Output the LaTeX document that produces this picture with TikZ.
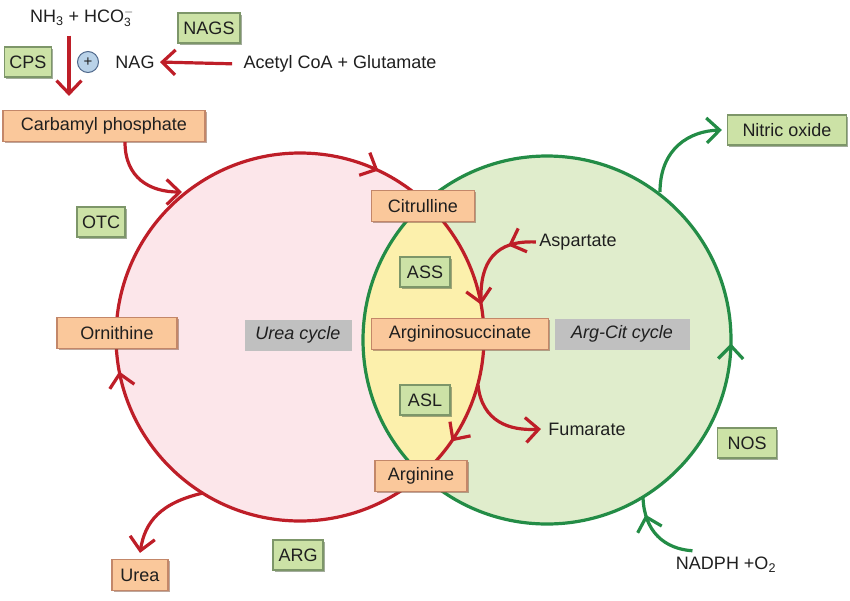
\documentclass[tikz,border=0pt]{standalone}
\usepackage{fontspec}
\setmainfont{Liberation Sans}
\usetikzlibrary{arrows.meta, decorations.markings, positioning, shadows}

\definecolor{cycred}{RGB}{190,30,40}
\definecolor{cycgreen}{RGB}{35,140,70}
\definecolor{pinkfill}{RGB}{252,230,234}
\definecolor{greenfill}{RGB}{224,237,204}
\definecolor{overlapfill}{RGB}{252,240,172}
\definecolor{metab}{RGB}{250,200,155}
\definecolor{metabedge}{RGB}{195,135,105}
\definecolor{enzyme}{RGB}{204,226,166}
\definecolor{enzymeedge}{RGB}{125,150,105}
\definecolor{cyclegrey}{RGB}{192,192,192}
\definecolor{plusfill}{RGB}{185,210,232}
\definecolor{plusedge}{RGB}{80,105,140}

\tikzset{
  barb/.tip={Straight Barb[length=13pt,width=25pt]},
  metabolite/.style={draw=metabedge, line width=1.2pt, fill=metab, minimum height=31pt, inner xsep=4pt,
    drop shadow={shadow xshift=1.5pt, shadow yshift=-1.5pt, fill=metabedge!70!black, opacity=0.55}},
  enzymebox/.style={draw=enzymeedge, line width=1.2pt, fill=enzyme, minimum height=30pt, inner xsep=4pt,
    drop shadow={shadow xshift=1.5pt, shadow yshift=-1.5pt, fill=enzymeedge!70!black, opacity=0.55}},
  cyclelabel/.style={fill=cyclegrey, minimum height=31pt, font=\fontsize{18}{20}\selectfont\itshape},
  redarrow/.style={draw=cycred, line width=3.2pt, -barb},
  greenarrow/.style={draw=cycgreen, line width=3.2pt, -barb},
}

\begin{document}
\begin{tikzpicture}[x=1pt, y=-1pt, every node/.style={font=\fontsize{18}{20}\selectfont, text=black!88}]
\useasboundingbox (0,0) rectangle (850,600);

% the two cycles
\coordinate (ureac) at (300,337);
\coordinate (argcitc) at (547,340);
\fill[pinkfill] (ureac) circle[radius=184pt];
\fill[greenfill] (argcitc) circle[radius=184pt];
\begin{scope}
  \clip (ureac) circle[radius=184pt];
  \fill[overlapfill] (argcitc) circle[radius=184pt];
\end{scope}
\draw[cycgreen, line width=3.2pt, postaction={decorate}, decoration={markings,
    mark=at position 0.997 with {\arrow{barb}}}]
  (argcitc) circle[radius=184pt];
\draw[cycred, line width=3.2pt, postaction={decorate}, decoration={markings,
    mark=at position 0.028 with {\arrowreversed{barb}},
    mark=at position 0.180 with {\arrowreversed{barb}},
    mark=at position 0.530 with {\arrowreversed{barb}},
    mark=at position 0.904 with {\arrowreversed{barb}}}]
  (ureac) circle[radius=184pt];

% metabolites
\node[metabolite, minimum width=202pt] (cp) at (104,126) {Carbamyl phosphate};
\node[metabolite, minimum width=103pt] (cit) at (423,206) {Citrulline};
\node[metabolite, minimum width=177pt] (asuc) at (460,334) {Argininosuccinate};
\node[metabolite, minimum width=92pt] (arg) at (421,476) {Arginine};
\node[metabolite, minimum width=120pt] (orn) at (117,333) {Ornithine};
\node[metabolite, minimum width=56pt] (urea) at (140,575) {Urea};

% enzymes
\node[enzymebox, minimum width=47pt] (cps) at (28,62) {CPS};
\node[enzymebox, minimum width=62pt] (nags) at (209,28) {NAGS};
\node[enzymebox, minimum width=48pt] (otc) at (101,222) {OTC};
\node[enzymebox, minimum width=50pt] (ass) at (425,272) {ASS};
\node[enzymebox, minimum width=50pt] (asl) at (425,400) {ASL};
\node[enzymebox, minimum width=50pt] (argase) at (298,555) {ARG};
\node[enzymebox, minimum width=59pt] (nos) at (747,443) {NOS};
\node[enzymebox, minimum width=119pt] (no) at (787,130) {Nitric oxide};

% cycle names
\node[cyclelabel, minimum width=107pt] (ucyc) at (298,335) {Urea cycle};
\node[cyclelabel, minimum width=135pt] (accyc) at (622,334) {Arg-Cit cycle};

% free text
\node (nh) at (82,18) {NH\textsubscript{3} + HCO$^{-}_{\mbox{\fontsize{12}{12}\selectfont 3}}$};
\node (nag) at (135,62) {NAG};
\node (acg) at (340,64) {Acetyl CoA + Glutamate};
\node (asp) at (578,242) {Aspartate};
\node (fum) at (587,429) {Fumarate};
\node (nadph) at (726,565) {NADPH +O\textsubscript{2}};
\node[circle, draw=plusedge, line width=1pt, fill=plusfill, minimum size=21pt, inner sep=0pt,
  font=\fontsize{15}{15}\selectfont] (plus) at (88,62) {+};

% side reactions
\coordinate (cpin) at (182,192);
\coordinate (aspin) at (481,300);
\coordinate (fumout) at (478,385);
\coordinate (ureaout) at (203,493);
\coordinate (noout) at (660,192);
\coordinate (nadphin) at (643,497);

\draw[redarrow, shorten <=5pt, shorten >=14pt] ([xshift=-13pt]nh.south) -- ([xshift=-35pt]cp.north);
\draw[redarrow, shorten <=8pt, shorten >=2pt] (acg.west) -- (nag.east);
\draw[redarrow] ([xshift=21pt]cp.south) .. controls (125,178) and (150,192) .. (cpin);
\draw[cycred, line width=3.2pt, postaction={decorate}, decoration={markings,
    mark=at position 0.3 with {\arrow{barb}}}]
  (asp.west) .. controls (495,240) and (480,262) .. (aspin);
\draw[redarrow] (fumout) .. controls (482,422) and (510,431) .. ([xshift=-4pt]fum.west);
\draw[redarrow] (ureaout) .. controls (160,503) and (145,522) .. ([yshift=6pt]urea.north);
\draw[greenarrow] (noout) .. controls (660,148) and (690,131) .. ([xshift=-5pt]no.west);
\draw[cycgreen, line width=3.2pt, postaction={decorate}, decoration={markings,
    mark=at position 0.78 with {\arrow{barb}}}]
  ([xshift=20pt, yshift=3pt]nadph.north west) .. controls (665,549) and (644,532) .. (nadphin);
\end{tikzpicture}
\end{document}
